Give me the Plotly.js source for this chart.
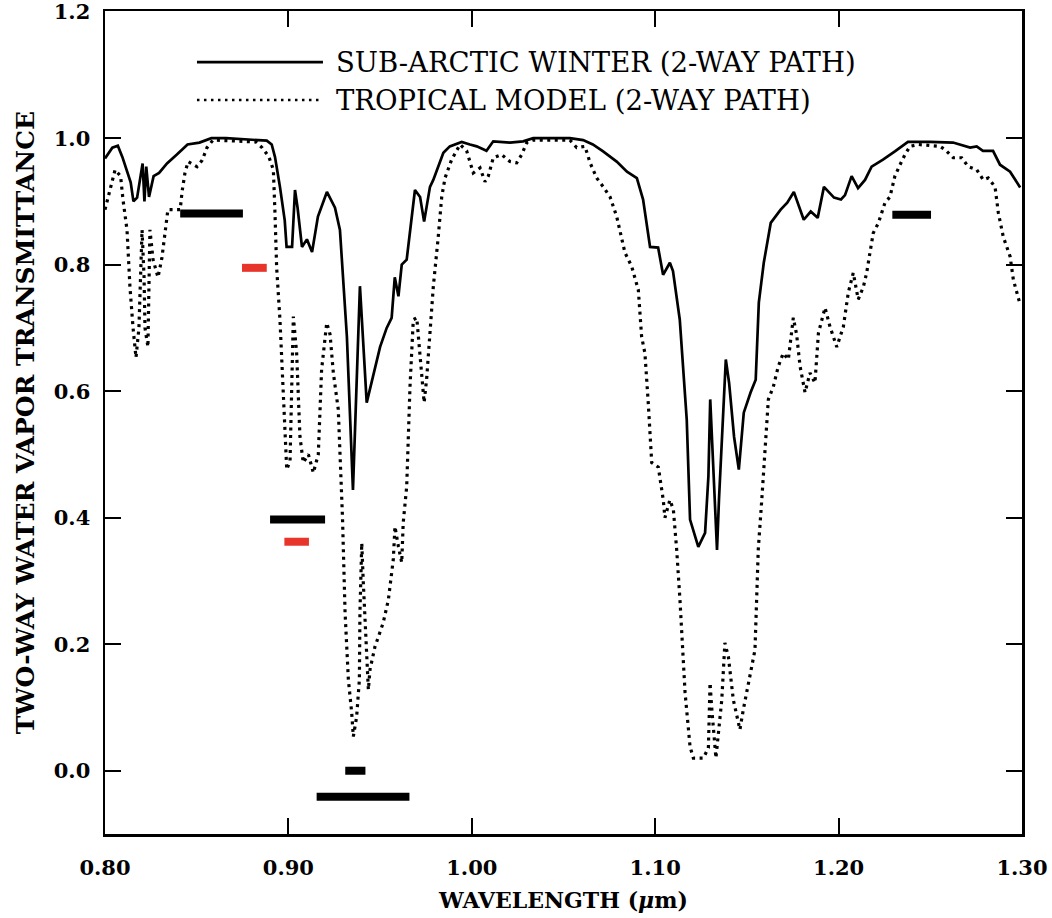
<!DOCTYPE html>
<html>
<head>
<meta charset="utf-8">
<script src="https://cdn.plot.ly/plotly-3.0.1.min.js"></script>
<style>html,body{margin:0;padding:0;background:#fff;}#chart{width:1052px;height:918px;}</style>
</head>
<body>
<div id="chart"></div>
<script>
// Sub-arctic winter (2-way path) transmittance
var winterWavelength = [0.800,0.804,0.807,0.8095,0.814,0.8155,0.8175,0.819,0.8205,0.8215,0.8225,0.824,0.8265,0.8295,0.8338,0.8392,0.845,0.8515,0.858,0.866,0.875,0.8882,0.8909,0.8927,0.8954,0.898,0.899,0.902,0.9036,0.905,0.9074,0.9101,0.9129,0.9161,0.921,0.9254,0.9281,0.9319,0.9352,0.939,0.9427,0.95,0.9536,0.9563,0.958,0.960,0.9618,0.9645,0.969,0.9718,0.974,0.9772,0.979,0.9845,0.988,0.9945,0.999,1.0027,1.008,1.0117,1.0208,1.028,1.0335,1.0535,1.0607,1.066,1.0716,1.079,1.0846,1.090,1.0934,1.0972,1.1016,1.1043,1.108,1.1097,1.1134,1.1172,1.119,1.1235,1.1272,1.129,1.130,1.132,1.1337,1.1348,1.136,1.1385,1.1403,1.143,1.1456,1.1483,1.152,1.1548,1.1565,1.1592,1.163,1.1684,1.172,1.1756,1.181,1.1848,1.1886,1.192,1.1975,1.2013,1.2035,1.2071,1.2106,1.2144,1.218,1.2242,1.2307,1.2378,1.2498,1.2624,1.2717,1.2753,1.2787,1.2842,1.288,1.2935,1.299];
var winterTransmittance = [0.968,0.985,0.988,0.970,0.930,0.900,0.906,0.930,0.960,0.900,0.955,0.907,0.940,0.945,0.960,0.974,0.990,0.993,1.000,1.000,0.998,0.996,0.990,0.970,0.923,0.870,0.828,0.828,0.918,0.890,0.828,0.840,0.820,0.876,0.915,0.890,0.855,0.686,0.444,0.766,0.582,0.670,0.700,0.716,0.780,0.750,0.800,0.808,0.918,0.907,0.868,0.923,0.934,0.977,0.987,0.994,0.990,0.987,0.980,0.995,0.993,0.995,1.000,1.000,0.997,0.990,0.979,0.963,0.947,0.937,0.903,0.828,0.827,0.784,0.803,0.790,0.713,0.555,0.397,0.354,0.376,0.465,0.587,0.449,0.349,0.430,0.500,0.650,0.613,0.528,0.476,0.566,0.598,0.618,0.740,0.803,0.866,0.887,0.898,0.915,0.871,0.884,0.874,0.923,0.906,0.903,0.910,0.940,0.921,0.934,0.955,0.966,0.979,0.994,0.994,0.993,0.985,0.987,0.980,0.980,0.958,0.947,0.922];

// Tropical model (2-way path) transmittance
var tropicalWavelength = [0.800,0.8027,0.8055,0.8085,0.8098,0.812,0.8136,0.8153,0.8169,0.8185,0.8202,0.8213,0.8218,0.8234,0.8245,0.8262,0.8289,0.831,0.8327,0.8343,0.841,0.842,0.8436,0.8453,0.8502,0.853,0.8556,0.8589,0.8823,0.8856,0.8893,0.8918,0.8927,0.8936,0.8954,0.8972,0.8991,0.9009,0.9027,0.9045,0.9063,0.9081,0.9109,0.9136,0.9163,0.9181,0.9209,0.9227,0.9245,0.9272,0.9295,0.9309,0.9327,0.9345,0.9354,0.9372,0.9387,0.939,0.940,0.9408,0.9427,0.9436,0.9445,0.9472,0.9517,0.9545,0.9572,0.9581,0.960,0.9618,0.9626,0.9636,0.9645,0.9663,0.9681,0.970,0.9718,0.974,0.9754,0.9772,0.979,0.9817,0.9836,0.9854,0.989,0.9936,0.9972,1.0008,1.0045,1.0072,1.009,1.0117,1.0163,1.0208,1.0245,1.0272,1.030,1.0335,1.0535,1.0572,1.0617,1.0645,1.0681,1.0717,1.0754,1.079,1.0817,1.0835,1.0872,1.0908,1.0926,1.0944,1.0962,1.0981,1.1017,1.1035,1.1044,1.1053,1.108,1.1099,1.1117,1.1135,1.1144,1.1163,1.119,1.1208,1.1262,1.129,1.1299,1.1308,1.1331,1.1344,1.1363,1.138,1.1399,1.1426,1.1462,1.148,1.1517,1.1544,1.1553,1.1562,1.1581,1.1599,1.1617,1.1644,1.1671,1.1698,1.1726,1.1753,1.1771,1.179,1.1817,1.1844,1.1871,1.189,1.1926,1.1953,1.199,1.2026,1.2053,1.208,1.2107,1.2135,1.2153,1.2171,1.2189,1.2217,1.2253,1.228,1.2307,1.2335,1.2362,1.2389,1.2435,1.2553,1.258,1.2625,1.2671,1.2707,1.2753,1.2789,1.2816,1.2853,1.2871,1.2898,1.2917,1.2935,1.2953,1.2971,1.2986];
var tropicalTransmittance = [0.887,0.920,0.950,0.940,0.903,0.855,0.765,0.700,0.653,0.700,0.855,0.780,0.700,0.670,0.855,0.808,0.780,0.810,0.845,0.887,0.887,0.915,0.945,0.963,0.955,0.965,0.985,0.997,0.994,0.985,0.971,0.950,0.880,0.795,0.713,0.590,0.476,0.490,0.718,0.660,0.528,0.487,0.500,0.471,0.500,0.634,0.708,0.690,0.629,0.571,0.400,0.250,0.144,0.092,0.054,0.085,0.144,0.250,0.360,0.300,0.196,0.128,0.160,0.196,0.234,0.270,0.334,0.386,0.354,0.329,0.392,0.428,0.449,0.607,0.713,0.716,0.660,0.582,0.620,0.686,0.765,0.844,0.907,0.937,0.966,0.990,0.980,0.945,0.953,0.931,0.940,0.969,0.974,0.963,0.961,0.974,0.993,0.997,0.997,0.985,0.987,0.961,0.937,0.923,0.907,0.876,0.840,0.819,0.797,0.760,0.686,0.660,0.582,0.487,0.480,0.449,0.428,0.400,0.428,0.413,0.350,0.270,0.218,0.123,0.038,0.020,0.020,0.036,0.139,0.100,0.020,0.060,0.112,0.202,0.180,0.112,0.065,0.096,0.149,0.191,0.270,0.350,0.428,0.507,0.587,0.607,0.639,0.660,0.650,0.716,0.690,0.639,0.598,0.629,0.613,0.692,0.732,0.702,0.670,0.702,0.756,0.787,0.745,0.765,0.787,0.819,0.850,0.866,0.898,0.907,0.940,0.958,0.974,0.987,0.990,0.987,0.982,0.969,0.969,0.955,0.950,0.934,0.937,0.923,0.882,0.844,0.828,0.813,0.776,0.756,0.741];

// Horizontal bars (start wavelength, end wavelength, level, set)
var barStart = [0.841, 0.8747, 0.890, 0.8978, 0.931, 0.9154, 1.2293];
var barEnd   = [0.8752, 0.8882, 0.920, 0.9112, 0.942, 0.966, 1.2504];
var barLevel = [0.881, 0.795, 0.397, 0.362, 0.000, -0.041, 0.879];
var barSet   = ['a', 'b', 'a', 'b', 'a', 'a', 'a'];

var xTickVals = [0.80, 0.90, 1.00, 1.10, 1.20, 1.30];
var xTickText = ['0.80', '0.90', '1.00', '1.10', '1.20', '1.30'];
var yTickVals = [0.0, 0.2, 0.4, 0.6, 0.8, 1.0, 1.2];
var yTickText = ['0.0', '0.2', '0.4', '0.6', '0.8', '1.0', '1.2'];

var seriesNames = ['SUB-ARCTIC WINTER (2-WAY PATH)', 'TROPICAL MODEL (2-WAY PATH)'];

var setColor = {a: '#000000', b: '#e8352b'};
var serif = 'DejaVu Serif, Liberation Serif, serif';

var traces = [
  {x: tropicalWavelength, y: tropicalTransmittance, mode: 'lines', name: seriesNames[1],
   line: {color: '#000', width: 3.2, dash: '3px,4.5px'}, hoverinfo: 'skip'},
  {x: winterWavelength, y: winterTransmittance, mode: 'lines', name: seriesNames[0],
   line: {color: '#000', width: 2.7}, hoverinfo: 'skip'}
];
for (var i = 0; i < barStart.length; i++) {
  traces.push({x: [barStart[i], barEnd[i]], y: [barLevel[i], barLevel[i]], mode: 'lines',
    line: {color: setColor[barSet[i]], width: 8}, hoverinfo: 'skip'});
}

var legendX0 = 0.1003, legendX1 = 0.2377, legendTextX = 0.250;
var legendY = [0.938, 0.892];

var layout = {
  width: 1052, height: 918,
  margin: {l: 105, r: 30, t: 11, b: 84},
  paper_bgcolor: '#fff', plot_bgcolor: '#fff',
  showlegend: false,
  xaxis: {
    range: [0.8, 1.3], tickvals: xTickVals, ticktext: xTickText,
    ticks: 'inside', ticklen: 16, tickwidth: 2, tickcolor: '#000',
    showline: true, linewidth: 2.5, linecolor: '#000', mirror: 'ticks',
    showgrid: false, zeroline: false,
    tickfont: {family: serif, size: 21, color: '#000', weight: 'bold'},
    ticklabelstandoff: 13,
    title: {text: 'WAVELENGTH (<i>μ</i>m)', font: {family: serif, size: 22, color: '#000', weight: 'bold'}, standoff: 14}
  },
  yaxis: {
    range: [-0.1, 1.201], tickvals: yTickVals, ticktext: yTickText,
    ticks: 'inside', ticklen: 16, tickwidth: 2, tickcolor: '#000',
    showline: true, linewidth: 2.5, linecolor: '#000', mirror: 'ticks',
    showgrid: false, zeroline: false,
    ticklabeloverflow: 'allow',
    tickfont: {family: serif, size: 21, color: '#000', weight: 'bold'},
    ticklabelstandoff: 8,
    title: {text: 'TWO-WAY WATER VAPOR TRANSMITTANCE', font: {family: serif, size: 25, color: '#000', weight: 'bold'}, standoff: 12}
  },
  shapes: [
    {type: 'line', xref: 'paper', yref: 'paper', x0: legendX0, x1: legendX1, y0: legendY[0], y1: legendY[0], line: {color: '#000', width: 2.7}},
    {type: 'line', xref: 'paper', yref: 'paper', x0: legendX0, x1: legendX1, y0: legendY[1], y1: legendY[1], line: {color: '#000', width: 2.5, dash: '2.5px,4.5px'}}
  ],
  annotations: [
    {xref: 'paper', yref: 'paper', x: legendTextX, y: legendY[0], xanchor: 'left', yanchor: 'middle', showarrow: false,
     text: seriesNames[0], font: {family: serif, size: 27.5, color: '#000'}},
    {xref: 'paper', yref: 'paper', x: legendTextX, y: legendY[1], xanchor: 'left', yanchor: 'middle', showarrow: false,
     text: seriesNames[1], font: {family: serif, size: 27.5, color: '#000'}}
  ]
};

Plotly.newPlot('chart', traces, layout, {staticPlot: true, displayModeBar: false});
</script>
</body>
</html>
